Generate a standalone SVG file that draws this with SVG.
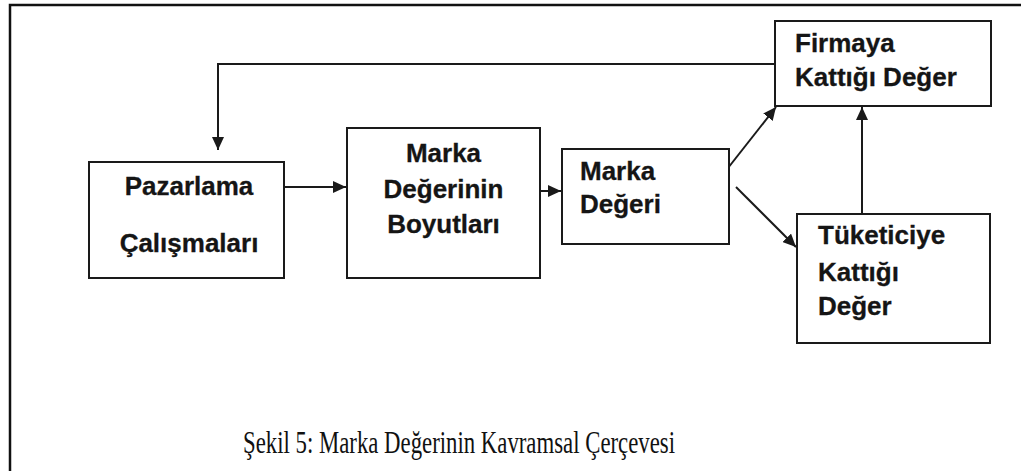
<svg xmlns="http://www.w3.org/2000/svg" width="1021" height="471" viewBox="0 0 1021 471">
<style>
.box{fill:#fff;stroke:#1a1a1a;stroke-width:2}
.lbl{font-family:"Liberation Sans",Arial,sans-serif;font-weight:bold;font-size:26px;fill:#151515;stroke:#151515;stroke-width:0.3}
.c{text-anchor:middle}
.con{fill:none;stroke:#1a1a1a;stroke-width:2}
.cap{font-family:"Liberation Serif","Times New Roman",serif;font-size:31px;fill:#111}
</style>
<defs>
<marker id="ah" markerUnits="userSpaceOnUse" markerWidth="14" markerHeight="12" refX="13" refY="6" orient="auto">
<path d="M0,0 L13,6 L0,12 z" fill="#1a1a1a"/>
</marker>
</defs>
<rect x="0" y="0" width="1021" height="471" fill="#fff"/>
<rect x="10" y="5" width="1030" height="490" fill="none" stroke="#111" stroke-width="2.5"/>
<g id="connectors">
<polyline class="con" points="775,64 218,64 218,150" marker-end="url(#ah)"/>
<line class="con" x1="284" y1="187" x2="346" y2="187" marker-end="url(#ah)"/>
<line class="con" x1="540" y1="191" x2="561" y2="191" marker-end="url(#ah)"/>
<line class="con" x1="728" y1="168" x2="776" y2="107" marker-end="url(#ah)"/>
<line class="con" x1="736" y1="187" x2="796" y2="247" marker-end="url(#ah)"/>
<line class="con" x1="862" y1="214" x2="862" y2="107" marker-end="url(#ah)"/>
</g>
<g id="pazarlama">
<rect class="box" x="89" y="162" width="195" height="116"/>
<text class="lbl c" x="189" y="195">Pazarlama</text>
<text class="lbl c" x="189" y="252">Çalışmaları</text>
</g>
<g id="boyutlar">
<rect class="box" x="347" y="128" width="193" height="150"/>
<text class="lbl c" x="443.5" y="162">Marka</text>
<text class="lbl c" x="443.5" y="198">Değerinin</text>
<text class="lbl c" x="443.5" y="233">Boyutları</text>
</g>
<g id="marka-degeri">
<rect class="box" x="562" y="149" width="167" height="95"/>
<text class="lbl" x="580" y="180">Marka</text>
<text class="lbl" x="580" y="213">Değeri</text>
</g>
<g id="firmaya">
<rect class="box" x="775" y="21" width="216" height="85"/>
<text class="lbl" x="795" y="52">Firmaya</text>
<text class="lbl" x="795" y="86">Kattığı Değer</text>
</g>
<g id="tuketiciye">
<rect class="box" x="797" y="214" width="193" height="129"/>
<text class="lbl" x="818" y="244">Tüketiciye</text>
<text class="lbl" x="818" y="281">Kattığı</text>
<text class="lbl" x="818" y="315">Değer</text>
</g>
<text class="cap" x="243" y="453" textLength="432" lengthAdjust="spacingAndGlyphs">Şekil 5: Marka Değerinin Kavramsal Çerçevesi</text>
</svg>
